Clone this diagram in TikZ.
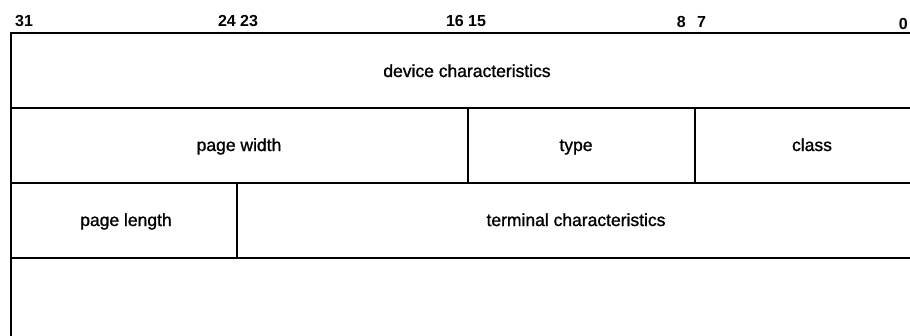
\documentclass[tikz,border=0pt]{standalone}
\usepackage{fontspec}
\setmainfont{Liberation Sans}
\newfontfamily\fieldfont[FakeBold=1.2]{Liberation Sans}
\begin{document}
\begin{tikzpicture}[x=1pt,y=-1pt,
  rule/.style={line width=1.9pt,line cap=rect},
  field/.style={anchor=base,inner sep=0pt,font=\fieldfont\fontsize{17.5}{20}\selectfont},
  bitnum/.style={anchor=base,inner sep=0pt,font=\fontsize{16}{18}\selectfont\bfseries}]
\useasboundingbox (0,0) rectangle (910,335);
% bit numbers
\node[bitnum,anchor=base west] (b31) at (15,26) {31};
\node[bitnum,anchor=base east] (b24) at (236,26) {24};
\node[bitnum,anchor=base west] (b23) at (240,26) {23};
\node[bitnum,anchor=base east] (b16) at (464,26) {16};
\node[bitnum,anchor=base west] (b15) at (468,26) {15};
\node[bitnum,anchor=base east] (b8) at (686,27) {8};
\node[bitnum,anchor=base west] (b7) at (697,27) {7};
\node[bitnum,anchor=base east] (b0) at (908,29) {0};
% grid
\draw[rule] (11,335) -- (11,33) -- (910,33);
\draw[rule] (11,108) -- (910,108);
\draw[rule] (11,183) -- (910,183);
\draw[rule] (11,258) -- (910,258);
\draw[rule] (468,108) -- (468,183);
\draw[rule] (695,108) -- (695,183);
\draw[rule] (237,183) -- (237,258);
% fields
\node[field] (dev) at (467,77) {device characteristics};
\node[field] (pw) at (239,151) {page width};
\node[field] (ty) at (576,151) {type};
\node[field] (cl) at (812,151) {class};
\node[field] (pl) at (126,226) {page length};
\node[field] (tc) at (576,226) {terminal characteristics};
\end{tikzpicture}
\end{document}
